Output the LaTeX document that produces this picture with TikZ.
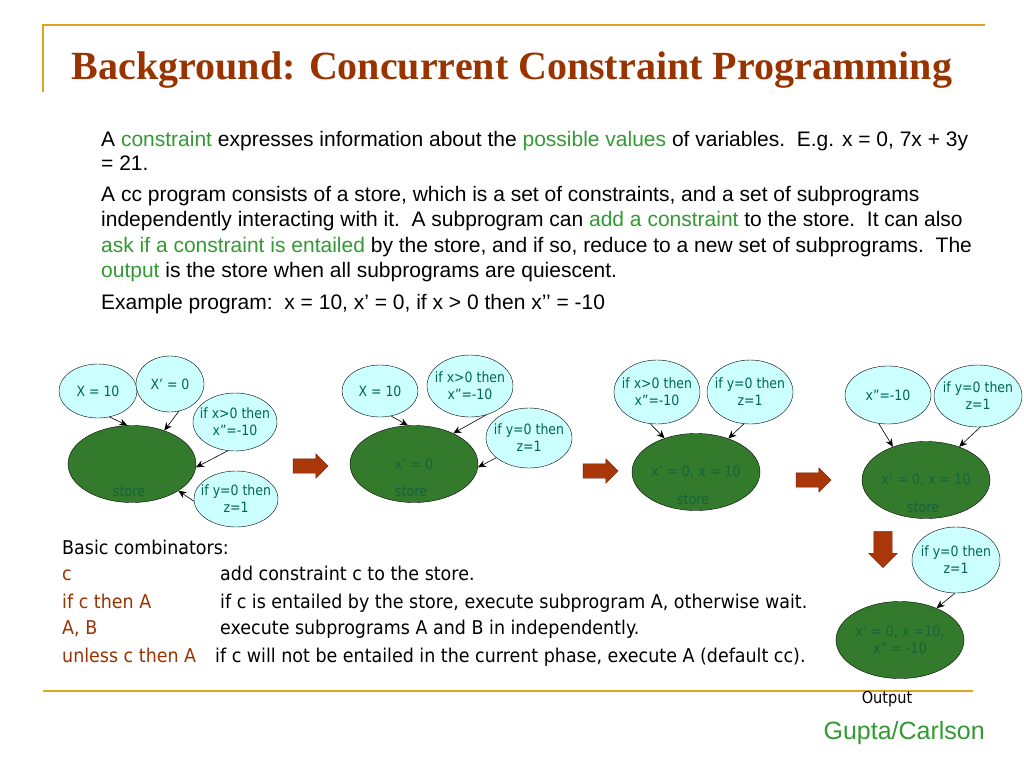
\documentclass[tikz,border=0pt]{standalone}
\usepackage{fontspec}
\setmainfont{Liberation Sans}
\newfontfamily\titlefont{Liberation Serif}
\newfontfamily\diagfont{DejaVu Sans}[FakeStretch=0.88]
\newfontfamily\combfont{DejaVu Sans}[FakeStretch=0.92]
\usetikzlibrary{shapes.geometric,shapes.arrows,arrows.meta}

\definecolor{titlebrown}{RGB}{153,51,0}
\definecolor{rulegold}{RGB}{221,165,30}
\definecolor{keygreen}{RGB}{51,153,51}
\definecolor{bubblefill}{RGB}{204,255,255}
\definecolor{bubbletext}{RGB}{0,102,80}
\definecolor{storefill}{RGB}{52,122,44}
\definecolor{storetext}{RGB}{20,100,60}
\definecolor{gofill}{RGB}{170,55,10}
\definecolor{goedge}{RGB}{110,30,0}

\newcommand{\kw}[1]{\textcolor{keygreen}{#1}}
\newcommand{\cw}[1]{\textcolor{titlebrown}{#1}}

\begin{document}
\begin{tikzpicture}[x=1pt, y=-1pt,
    bubble/.style={
        ellipse,
        draw=black,
        fill=bubblefill,
        inner sep=-30pt,
        align=center,
        font=\diagfont\fontsize{14.2}{17}\selectfont,
        text=bubbletext
    },
    store/.style={
        ellipse,
        draw=black,
        fill=storefill,
        inner sep=-40pt,
        minimum width=128,
        minimum height=77,
        align=center,
        font=\diagfont\fontsize{14.5}{17}\selectfont,
        text=storetext
    },
    storename/.style={
        inner sep=0,
        font=\diagfont\fontsize{14.5}{17}\selectfont,
        text=storetext
    },
    conn/.style={
        -{Stealth[length=8pt,width=7pt]},
        semithick
    },
    goarrow/.style={
        single arrow,
        draw=goedge,
        fill=gofill,
        inner xsep=0,
        inner ysep=7pt,
        minimum height=35,
        single arrow head extend=5pt
    },
    textline/.style={
        anchor=base west,
        inner sep=0,
        font=\fontsize{21}{25}\selectfont
    },
    combline/.style={
        anchor=base west,
        inner sep=0,
        font=\combfont\fontsize{19}{23}\selectfont
    },
    goldline/.style={
        draw=rulegold,
        line width=1.6pt
    }
]
    \path[fill=white, use as bounding box] (0,0) rectangle (1024,768);

    % frame lines and title
    \draw[goldline] (43,92) -- (43,25) -- (985,25);
    \draw[goldline] (43,691) -- (973,691);
    \node[anchor=base, inner sep=0, text=titlebrown,
        font=\titlefont\bfseries\fontsize{40}{46}\selectfont] (title) at (512,79)
        {Background: Concurrent Constraint Programming};

    % explanation
    \node[textline] (l1) at (101,146.5) {A \kw{constraint} expresses information about the \kw{possible values} of variables.\ \ E.g. x = 0, 7x + 3y};
    \node[textline] (l2) at (101,170.5) {= 21.};
    \node[textline] (l3) at (101,201.5) {A cc program consists of a store, which is a set of constraints, and a set of subprograms};
    \node[textline] (l4) at (101,226.5) {independently interacting with it.\ \ A subprogram can \kw{add a constraint} to the store.\ \ It can also};
    \node[textline] (l5) at (101,252.5) {\kw{ask if a constraint is entailed} by the store, and if so, reduce to a new set of subprograms.\ \ The};
    \node[textline] (l6) at (101,277.5) {\kw{output} is the store when all subprograms are quiescent.};
    \node[textline] (l7) at (101,309.5) {Example program:\ \ x = 10, x’ = 0, if x > 0 then x’’ = -10};

    % constraints and guarded subprograms
    \foreach \name/\x/\y/\w/\h/\txt in {
        x1/98/391/78/54/{X = 10},
        xp1/170/384/68/56/{X’ = 0},
        ifx1/235/422/84/58/{if x>0 then\\x”=-10},
        ify1/236/499/84/56/{if y=0 then\\z=1},
        x2/380/391/76/52/{X = 10},
        ifx2/470/386/86/62/{if x>0 then\\x”=-10},
        ify2/529/438/86/60/{if y=0 then\\z=1},
        ifx3/657/392/86/64/{if x>0 then\\x”=-10},
        ify3/750/392/86/64/{if y=0 then\\z=1},
        xpp4/888/395/86/58/{x”=-10},
        ify4/978/396/88/62/{if y=0 then\\z=1},
        ify5/956/560/88/66/{if y=0 then\\z=1}%
    } {
        \node[bubble, minimum width=\w, minimum height=\h] (\name) at (\x,\y) {\txt};
    }

    % stores
    \foreach \name/\x/\y/\txt in {
        s1/132/464/{},
        s2/414/464/{x’ = 0},
        s3/696/472/{x’ = 0, x = 10},
        s4/926/480/{x’ = 0, x = 10},
        s5/900/640/{x’ = 0, x =10,\\x” = -10}%
    } {
        \node[store] (\name) at (\x,\y) {\txt};
    }
    \foreach \name in {s1,s2,s3,s4} {
        \node[storename] (\name name) at ([xshift=-3pt,yshift=-28pt]\name.center) {store};
    }

    \foreach \u/\a/\v/\b in {
        x1/-66/s1/97,
        xp1/-72/s1/46,
        ifx1/-104/s1/-3,
        ify1/183/s1/-30,
        x2/-66/s2/99,
        ifx2/-61/s2/38,
        ify2/-149/s2/-3,
        ifx3/-102/s3/133,
        ify3/-101/s3/46,
        xpp4/-108/s4/135,
        ify4/-86/s4/45,
        ify5/-92/s5/41%
    } {
        \draw[conn] (\u.\a) -- (\v.\b);
    }

    % steps
    \node[goarrow] (go1) at (307,466) {};
    \node[goarrow] (go2) at (597,471) {};
    \node[goarrow] (go3) at (810,480) {};
    \node[goarrow, rotate=-90, minimum height=36, inner ysep=9pt] (go4) at (883,545) {};

    \node[inner sep=0, font=\diagfont\fontsize{16.5}{19}\selectfont] (output) at (887,699) {Output};

    % combinators
    \node[combline] (c0) at (62,554.5) {Basic combinators:};
    \node[combline] (c1) at (62,580.5) {\cw{c}};
    \node[combline] (d1) at (220,580.5) {add constraint c to the store.};
    \node[combline] (c2) at (62,608.5) {\cw{if c then A}};
    \node[combline] (d2) at (220,608.5) {if c is entailed by the store, execute subprogram A, otherwise wait.};
    \node[combline] (c3) at (62,634.5) {\cw{A, B}};
    \node[combline] (d3) at (220,634.5) {execute subprograms A and B in independently.};
    \node[combline] (c4) at (62,662.5) {\cw{unless c then A}};
    \node[combline] (d4) at (215,662.5) {if c will not be entailed in the current phase, execute A (default cc).};

    \node[anchor=base east, inner sep=0, text=keygreen, font=\fontsize{25}{29}\selectfont] (authors) at (985,739) {Gupta/Carlson};
\end{tikzpicture}
\end{document}
